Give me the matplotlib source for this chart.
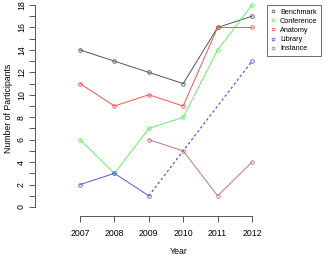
import numpy as np
import matplotlib
matplotlib.use("Agg")
import matplotlib.pyplot as plt
from matplotlib.lines import Line2D

years = [2007, 2008, 2009, 2010, 2011, 2012]
benchmark = [14, 13, 12, 11, 16, 17]
conference = [6, 3, 7, 8, 14, 18]
anatomy = [11, 9, 10, 9, 16, 16]
library = [2, 3, 1, np.nan, np.nan, 13]
instance = [np.nan, np.nan, 6, 5, 1, 4]

series_names = ["Benchmark", "Conference", "Anatomy", "Library", "Instance"]
series_vals = [benchmark, conference, anatomy, library, instance]
colors = ["#555555", "#66ee66", "#ee5555", "#5555dd", "#bb7777"]

plt.rcParams['font.family'] = ['Liberation Sans', 'DejaVu Sans']

W, H = 328, 257
fig = plt.figure(figsize=(W / 100, H / 100), dpi=100)
ymin, ymax = -0.8, 18.3
pxu = 202 / 18
ax_h = (ymax - ymin) * pxu
ax = fig.add_axes([35 / W, (H - 216) / H, (322 - 35) / W, ax_h / H])

x0 = 2007 - 45 / 34.4
x1 = 2012 + 70 / 34.4
ax.set_xlim(x0, x1)
ax.set_ylim(ymin, ymax)

for name, vals, c in zip(series_names, series_vals, colors):
    v = np.array(vals, dtype=float)
    ax.plot(years, v, color=c, lw=0.7, marker='o', ms=2.6, mfc='none', mew=0.6)
    valid = [i for i in range(len(v)) if not np.isnan(v[i])]
    for a, b in zip(valid[:-1], valid[1:]):
        if b - a > 1:
            ax.plot([years[a], years[b]], [v[a], v[b]], color=c, lw=0.9,
                    linestyle=(0, (2, 2)))

for s in ['top', 'right']:
    ax.spines[s].set_visible(False)
ax.spines['left'].set_bounds(0, 18)
ax.spines['bottom'].set_bounds(2007, 2012)
for s in ['left', 'bottom']:
    ax.spines[s].set_color('#555555')
    ax.spines[s].set_linewidth(0.7)

ax.set_xticks(years)
ax.set_xticklabels([str(y) for y in years], fontsize=6.3)
ax.set_yticks(range(0, 19))
ax.set_yticklabels([str(i) if i % 2 == 0 else "" for i in range(0, 19)],
                   fontsize=6.3, rotation=90, va='center')
ax.tick_params(axis='both', length=4, width=0.7, color='#555555', pad=2.5)
ax.tick_params(axis='x', pad=5)
ax.set_xlabel("Year", fontsize=6.3, labelpad=6.5)
ax.set_ylabel("Number of Participants", fontsize=6.3, labelpad=3)

handles = [Line2D([], [], color=c, marker='o', ms=2, mfc='none', mew=0.6, lw=0)
               for c in colors]
leg = ax.legend(handles, series_names, loc='upper right', fontsize=5.2,
                bbox_to_anchor=(1.0, 0.99), frameon=True, fancybox=False,
                handlelength=0.8, handletextpad=0.5, labelspacing=0.3,
                borderpad=0.45, borderaxespad=0.2)
leg.get_frame().set_edgecolor('#444444')
leg.get_frame().set_linewidth(0.7)

fig.savefig("out.png", dpi=100)
